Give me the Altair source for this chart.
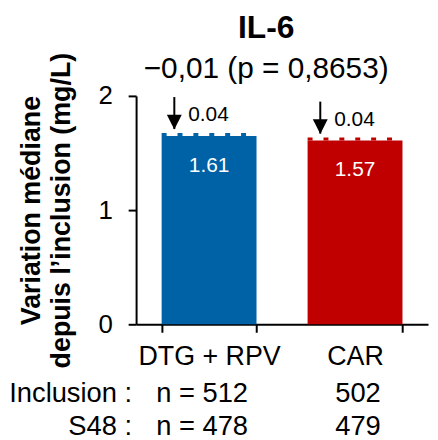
import altair as alt
import pandas as pd

groups = ["DTG + RPV", "CAR"]
medians = [1.61, 1.57]
deltas = [0.04, 0.04]
n_inclusion = ["n = 512", "502"]
n_s48 = ["n = 478", "479"]
colors = ["#0062A6", "#C00000"]
row_labels = ["Inclusion :", "S48 :"]
y_ticks = [0.0, 1.0, 2.0]
title_text = "IL-6"
subtitle_text = "\u22120,01 (p = 0,8653)"
y_title = ["Variation médiane", "depuis l\u2019inclusion (mg/L)"]

FONT = "Liberation Sans"
W, H = 294, 230

df = pd.DataFrame({
    "group": groups,
    "median": medians,
    "delta": deltas,
    "n_inc": n_inclusion,
    "n_s48": n_s48,
})
df["total"] = df["median"] + df["delta"]
df["bump"] = df["total"] + 0.012
df["tip"] = df["total"] + 0.06
df["arrow_top"] = df["tip"] + 0.28
df["delta_y"] = df["tip"] + 0.12
df["label_y"] = df["median"] - 0.22
df["delta_label"] = df["delta"].map(lambda v: f"{v:.2f}")
df["median_label"] = df["median"].map(lambda v: f"{v:.2f}")

x_scale = alt.Scale(paddingInner=0.35, paddingOuter=0.175)
x_axis = alt.Axis(title=None, labelAngle=0, labelFontSize=27, labelFont=FONT,
                  labelColor="black", tickBand="extent", tickSize=8, tickWidth=2,
                  tickColor="black", domainColor="black", domainWidth=2,
                  labelPadding=12)
y_scale = alt.Scale(domain=[0, 2], nice=False)
y_axis = alt.Axis(values=y_ticks, labelExpr="format(datum.value, 'd')", grid=False,
                  tickSize=8, tickWidth=2, labelOverlap=False, labelBound=False,
                  tickColor="black", domainColor="black",
                  domainWidth=2, labelFontSize=26, labelFont=FONT, labelColor="black",
                  labelPadding=16,
                  title=y_title, titleFontSize=27, titleFont=FONT, titleFontWeight="bold",
                  titleColor="black", titleLineHeight=30, titleX=-105, titleY=H / 2,
                  titleBaseline="middle", titleAngle=270, titleAlign="center")


def X(**kw):
    return alt.X("group:N", sort=groups, scale=x_scale, axis=x_axis, **kw)


def Y(field):
    return alt.Y(field, scale=y_scale, axis=y_axis)


color_enc = alt.Color("group:N", scale=alt.Scale(domain=groups, range=colors), legend=None)

base = alt.Chart(df)

bars = base.mark_bar().encode(x=X(), y=Y("total:Q"), color=color_enc)

bumps = base.mark_rule(strokeWidth=3, strokeDash=[5, 11]).encode(
    x=X(bandPosition=0),
    x2=alt.X2("group:N", bandPosition=1),
    y=Y("bump:Q"),
    color=color_enc,
)

arrow_line = base.mark_rule(strokeWidth=2, color="black", xOffset=-35).encode(
    x=X(), y=Y("arrow_top:Q"), y2="tip:Q",
)

arrow_head = base.mark_point(shape="M-1,-1L1,-1L0,1Z", filled=True, size=225, color="black",
                             opacity=1, xOffset=-35, yOffset=-7).encode(
    x=X(), y=Y("tip:Q"),
)

delta_text = base.mark_text(align="left", baseline="middle", dx=-21, fontSize=21, font=FONT,
                            color="black").encode(
    x=X(), y=Y("delta_y:Q"), text="delta_label:N",
)

median_text = base.mark_text(baseline="middle", fontSize=21, font=FONT, color="white").encode(
    x=X(), y=Y("label_y:Q"), text="median_label:N",
)

title_mark = alt.Chart(pd.DataFrame({"t": [title_text]})).mark_text(
    align="center", baseline="alphabetic", fontSize=32, fontWeight="bold", font=FONT, color="black"
).encode(x=alt.value(W / 2 - 16), y=alt.value(-58), text="t:N")

subtitle_mark = alt.Chart(pd.DataFrame({"t": [subtitle_text]})).mark_text(
    align="center", baseline="alphabetic", fontSize=30, font=FONT, color="black"
).encode(x=alt.value(W / 2 - 16), y=alt.value(-18), text="t:N")

layers = [bars, bumps, arrow_line, arrow_head, delta_text, median_text, title_mark, subtitle_mark]

n_dx = [-7, 3]
row_y = (H + 78, H + 111)
for i, g in enumerate(groups):
    for field, yy in (("n_inc", row_y[0]), ("n_s48", row_y[1])):
        layers.append(
            base.transform_filter(alt.datum.group == g).mark_text(
                baseline="alphabetic", fontSize=27.5, font=FONT, color="black", dx=n_dx[i]
            ).encode(x=X(), y=alt.value(yy), text=f"{field}:N")
        )

for lab, yy in zip(row_labels, row_y):
    layers.append(
        alt.Chart(pd.DataFrame({"t": [lab]})).mark_text(
            align="right", baseline="alphabetic", fontSize=27.5, font=FONT, color="black"
        ).encode(x=alt.value(-4), y=alt.value(yy), text="t:N")
    )

chart = alt.layer(*layers).properties(
    width=W, height=H,
    autosize=alt.AutoSizeParams(type="none"),
    padding={"left": 129, "top": 87, "right": 2, "bottom": 115},
).configure_view(stroke=None)

chart.save("out.html", embed_options={"renderer": "svg", "actions": False})
